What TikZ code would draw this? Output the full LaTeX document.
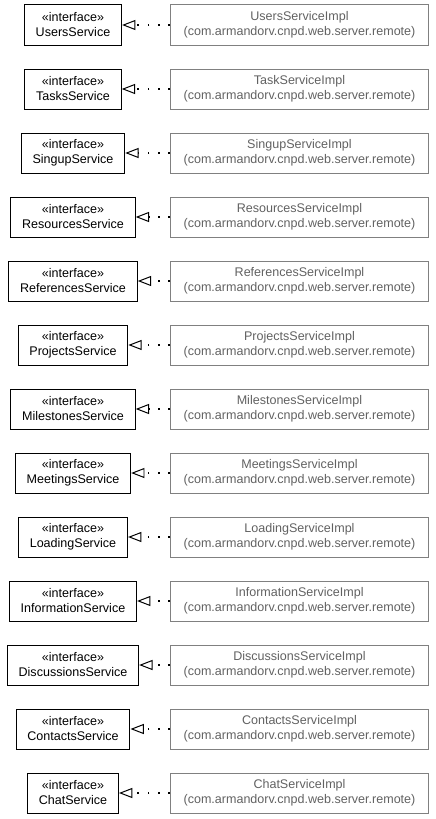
\documentclass[tikz,border=0pt]{standalone}
\usepackage{fontspec}
\setmainfont{Liberation Sans}
\usetikzlibrary{arrows.meta}

\begin{document}
\begin{tikzpicture}[
		iface/.style={
			draw,
			line width=0.85pt,
			align=center,
			inner xsep=0.34cm,
			minimum height=1.2cm,
			font=\fontsize{10.7}{12.8}\selectfont
		},
		impl/.style={
			draw=black!50,
			text=black!62,
			line width=0.85pt,
			align=center,
			minimum height=1.2cm,
			minimum width=7.74cm,
			font=\fontsize{10.7}{12.8}\selectfont
		},
		realize/.style={
			-{Triangle[open, length=0.4cm, width=0.3cm, fill=white, line width=0.85pt]},
			line width=1.6pt,
			dash pattern=on 1.6pt off 7.2pt
		}
		]
		
		\useasboundingbox (0,0) rectangle (13.05,-24.57);
		
		% Interfaces
		\node[iface] at (2.19,-0.75) (users) {«interface»\\UsersService};
		\node[iface] at (2.19,-2.67) (tasks) {«interface»\\TasksService};
		\node[iface] at (2.19,-4.59) (singup) {«interface»\\SingupService};
		\node[iface] at (2.19,-6.51) (resources) {«interface»\\ResourcesService};
		\node[iface] at (2.19,-8.43) (references) {«interface»\\ReferencesService};
		\node[iface] at (2.19,-10.35) (projects) {«interface»\\ProjectsService};
		\node[iface] at (2.19,-12.27) (milestones) {«interface»\\MilestonesService};
		\node[iface] at (2.19,-14.19) (meetings) {«interface»\\MeetingsService};
		\node[iface] at (2.19,-16.11) (loading) {«interface»\\LoadingService};
		\node[iface] at (2.19,-18.03) (information) {«interface»\\InformationService};
		\node[iface] at (2.19,-19.95) (discussions) {«interface»\\DiscussionsService};
		\node[iface] at (2.19,-21.87) (contacts) {«interface»\\ContactsService};
		\node[iface] at (2.19,-23.79) (chat) {«interface»\\ChatService};
		
		% Implementations
		\node[impl] at (8.985,-0.75) (usersImpl) {UsersServiceImpl\\(com.armandorv.cnpd.web.server.remote)};
		\node[impl] at (8.985,-2.67) (tasksImpl) {TaskServiceImpl\\(com.armandorv.cnpd.web.server.remote)};
		\node[impl] at (8.985,-4.59) (singupImpl) {SingupServiceImpl\\(com.armandorv.cnpd.web.server.remote)};
		\node[impl] at (8.985,-6.51) (resourcesImpl) {ResourcesServiceImpl\\(com.armandorv.cnpd.web.server.remote)};
		\node[impl] at (8.985,-8.43) (referencesImpl) {ReferencesServiceImpl\\(com.armandorv.cnpd.web.server.remote)};
		\node[impl] at (8.985,-10.35) (projectsImpl) {ProjectsServiceImpl\\(com.armandorv.cnpd.web.server.remote)};
		\node[impl] at (8.985,-12.27) (milestonesImpl) {MilestonesServiceImpl\\(com.armandorv.cnpd.web.server.remote)};
		\node[impl] at (8.985,-14.19) (meetingsImpl) {MeetingsServiceImpl\\(com.armandorv.cnpd.web.server.remote)};
		\node[impl] at (8.985,-16.11) (loadingImpl) {LoadingServiceImpl\\(com.armandorv.cnpd.web.server.remote)};
		\node[impl] at (8.985,-18.03) (informationImpl) {InformationServiceImpl\\(com.armandorv.cnpd.web.server.remote)};
		\node[impl] at (8.985,-19.95) (discussionsImpl) {DiscussionsServiceImpl\\(com.armandorv.cnpd.web.server.remote)};
		\node[impl] at (8.985,-21.87) (contactsImpl) {ContactsServiceImpl\\(com.armandorv.cnpd.web.server.remote)};
		\node[impl] at (8.985,-23.79) (chatImpl) {ChatServiceImpl\\(com.armandorv.cnpd.web.server.remote)};
		
		% Realizations
		\draw[realize] (usersImpl.west) -- (users.east);
		\draw[realize] (tasksImpl.west) -- (tasks.east);
		\draw[realize] (singupImpl.west) -- (singup.east);
		\draw[realize] (resourcesImpl.west) -- (resources.east);
		\draw[realize] (referencesImpl.west) -- (references.east);
		\draw[realize] (projectsImpl.west) -- (projects.east);
		\draw[realize] (milestonesImpl.west) -- (milestones.east);
		\draw[realize] (meetingsImpl.west) -- (meetings.east);
		\draw[realize] (loadingImpl.west) -- (loading.east);
		\draw[realize] (informationImpl.west) -- (information.east);
		\draw[realize] (discussionsImpl.west) -- (discussions.east);
		\draw[realize] (contactsImpl.west) -- (contacts.east);
		\draw[realize] (chatImpl.west) -- (chat.east);
		
	\end{tikzpicture}
\end{document}
